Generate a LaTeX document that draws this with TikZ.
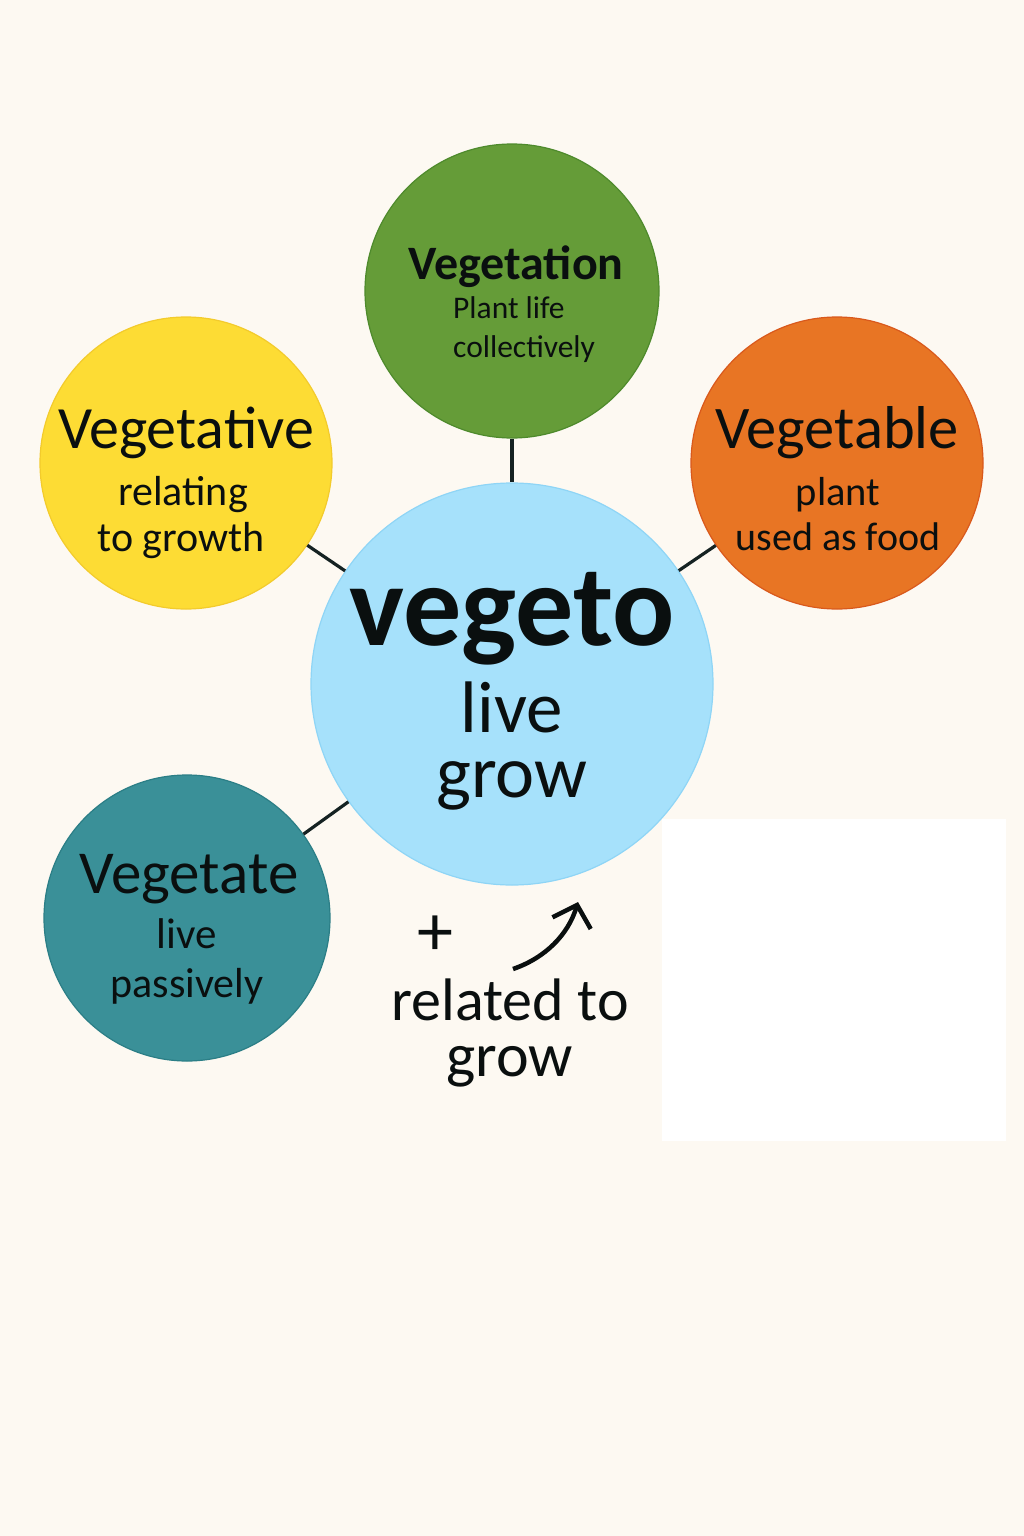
\documentclass[tikz,border=0pt]{standalone}
\usepackage{fontspec}
\setmainfont{Carlito}
\usetikzlibrary{arrows.meta}
\definecolor{bg}{HTML}{FDF9F2}
\definecolor{cblue}{HTML}{A6E1FB}
\definecolor{cblueb}{HTML}{8FD5F6}
\definecolor{cgreen}{HTML}{659C38}
\definecolor{cgreenb}{HTML}{4E8A2C}
\definecolor{cyellow}{HTML}{FDDC34}
\definecolor{cyellowb}{HTML}{F3CB2C}
\definecolor{corange}{HTML}{E87524}
\definecolor{corangeb}{HTML}{D9591C}
\definecolor{cteal}{HTML}{3A9098}
\definecolor{ctealb}{HTML}{2B7E86}
\definecolor{ink}{HTML}{0A0F0F}
\definecolor{linkc}{HTML}{152222}
\begin{document}
\begin{tikzpicture}[x=1pt,y=-1pt,
  bubble/.style={circle, inner sep=0pt, line width=1.2pt},
  link/.style={draw=linkc, line width=3.2pt},
  txt/.style={anchor=base, inner sep=0pt, text=ink},
  txtl/.style={anchor=base west, inner sep=0pt, text=ink},
]
\fill[bg] (0,0) rectangle (1024,1536);
\useasboundingbox (0,0) rectangle (1024,1536);

% circles
\node[bubble, fill=cblue, draw=cblueb, minimum size=402pt] (root) at (512,684) {};
\node[bubble, fill=cgreen, draw=cgreenb, minimum size=294pt] (vtion) at (512,291) {};
\node[bubble, fill=cyellow, draw=cyellowb, minimum size=292pt] (vtive) at (186,463) {};
\node[bubble, fill=corange, draw=corangeb, minimum size=292pt] (vtable) at (837,463) {};
\node[bubble, fill=cteal, draw=ctealb, minimum size=286pt] (vtate) at (187,918) {};

% connectors
\draw[link] (vtion) -- (root);
\draw[link] (vtive) -- (root);
\draw[link] (vtable) -- (root);
\draw[link] (vtate) -- (root);

% blank panel
\fill[white] (662,819) rectangle (1006,1141);

% centre text
\node[txt, font=\bfseries\fontsize{116}{120}\selectfont] (tv) at (512,645) {vegeto};
\node[txt, font=\fontsize{73}{76}\selectfont] (tl) at (512,732) {live};
\node[txt, font=\fontsize{74}{78}\selectfont] (tg) at (512,797) {grow};

% Vegetation
\node[txt, font=\bfseries\fontsize{48}{52}\selectfont] (a1) at (516,279) {Vegetation};
\node[txtl, font=\fontsize{31.5}{34}\selectfont] (a2) at (453,318) {Plant life};
\node[txtl, font=\fontsize{31.5}{34}\selectfont] (a3) at (453,357) {collectively};

% Vegetative
\node[txt, font=\fontsize{60}{64}\selectfont] (b1) at (186,448) {Vegetative};
\node[txt, font=\fontsize{42}{46}\selectfont] (b2) at (183,505) {relating};
\node[txt, font=\fontsize{42}{46}\selectfont] (b3) at (181,551) {to growth};

% Vegetable
\node[txt, font=\fontsize{60.5}{64}\selectfont] (c1) at (837,448) {Vegetable};
\node[txt, font=\fontsize{40.5}{44}\selectfont] (c2) at (838,505) {plant};
\node[txt, font=\fontsize{40}{44}\selectfont] (c3) at (838,550) {used as food};

% Vegetate
\node[txt, font=\fontsize{61}{64}\selectfont] (d1) at (189,893) {Vegetate};
\node[txt, font=\fontsize{43}{46}\selectfont] (d2) at (187,948) {live};
\node[txt, font=\fontsize{42}{46}\selectfont] (d3) at (187,997) {passively};

% plus, arrow, caption
\node[txt, font=\fontsize{72}{76}\selectfont] (plus) at (435,955) {+};
\coordinate (arrs) at (513,969);
\coordinate (arre) at (578,902);
\draw[draw=ink, line width=4.5pt, -{Straight Barb[length=19pt,width=40pt,line width=4.5pt]}]
  (arrs) .. controls (545,958) and (568,935) .. (arre);
\node[txt, font=\fontsize{60}{64}\selectfont] (r1) at (510,1020) {related to};
\node[txt, font=\fontsize{62}{66}\selectfont] (r2) at (510,1076) {grow};
\end{tikzpicture}
\end{document}
